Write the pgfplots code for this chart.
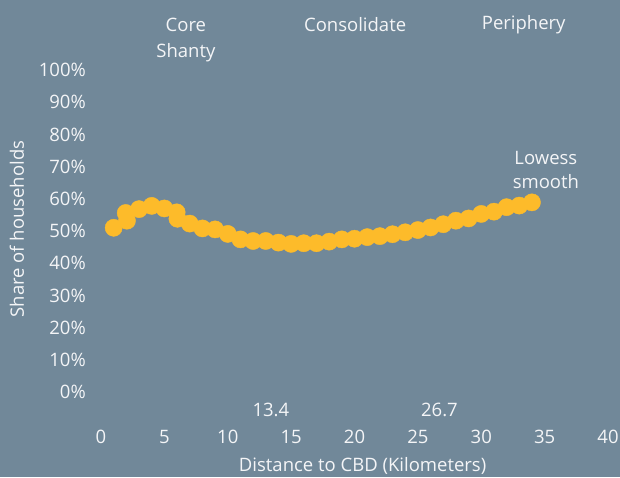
\documentclass[border=0pt]{standalone}
\usepackage{pgfplots}
\pgfplotsset{compat=1.18}
\usepackage{fontspec}
\setmainfont{Open Sans}
\definecolor{bg}{HTML}{718899}
\definecolor{dot}{HTML}{FDBB2A}
\definecolor{txt}{HTML}{F4F5F7}
\begin{document}
\begin{tikzpicture}
\fill[bg] (0pt,0pt) rectangle (620pt,477pt);
\useasboundingbox (0pt,0pt) rectangle (620pt,477pt);
\begin{axis}[
  at={(101pt,85pt)}, anchor=origin,
  width=507pt, height=322pt, scale only axis,
  xmin=0, xmax=40, ymin=0, ymax=100,
  axis line style={draw=none}, tick style={draw=none},
  xtick={0,5,...,40}, ytick={0,10,...,100},
  yticklabel={\pgfmathprintnumber{\tick}\%},
  /pgf/number format/assume math mode=true,
  clip=false,
  font=\fontsize{18.5}{22}\selectfont,
  every tick label/.append style={text=txt, font=\fontsize{18.5}{22}\selectfont},
  xticklabel style={anchor=center, inner sep=0pt, yshift=-45pt},
  yticklabel style={anchor=east, inner sep=0pt, xshift=-15pt},
  xlabel={Distance to CBD (Kilometers)},
  ylabel={Share of households},
  every axis x label/.style={at={(axis description cs:0.516,0)}, anchor=center, yshift=-74pt, text=txt, inner sep=0pt},
  every axis y label/.style={at={(axis description cs:-0.1657,0.506)}, anchor=center, rotate=90, text=txt, inner sep=0pt},
]
\addplot[only marks, mark=*, mark size=8.6pt, draw=dot, fill=dot, mark options={draw=dot, fill=dot}] coordinates {
(1,51.0) (1.95,55.6) (2.05,53.2) (3,56.8) (4,57.8) (5,57.0) (5.97,55.8) (6.03,53.8)
(7,52.3) (8,50.8) (9,50.5) (10,49.1) (11,47.4) (12,46.9) (13,46.9) (14,46.4)
(15,46.0) (16,46.2) (17,46.2) (18,46.7) (19,47.4) (20,47.6) (21,48.1) (22,48.4)
(23,49.0) (24,49.6) (25,50.3) (26,51.1) (27,52.1) (28,53.2) (29,53.9) (30,55.3)
(31,56.0) (32,57.4) (33,57.9) (34,58.9)
};
\node[text=txt, anchor=center] at (axis cs:6.7,114) {Core};
\node[text=txt, anchor=center] at (axis cs:6.7,105.3) {Shanty};
\node[text=txt, anchor=center] at (axis cs:20.05,114) {Consolidate};
\node[text=txt, anchor=center] at (axis cs:33.35,114) {Periphery};
\node[text=txt, anchor=center] at (axis cs:13.4,-5.6) {13.4};
\node[text=txt, anchor=center] at (axis cs:26.7,-5.6) {26.7};
\node[text=txt, anchor=center] at (axis cs:35.1,72.7) {Lowess};
\node[text=txt, anchor=center] at (axis cs:35.1,65.5) {smooth};
\end{axis}
\end{tikzpicture}
\end{document}
